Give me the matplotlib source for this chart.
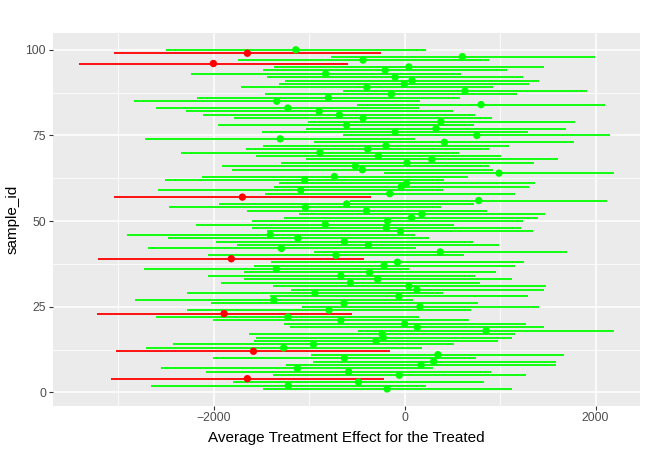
import numpy as np
from matplotlib import pyplot as plt
from matplotlib.ticker import MultipleLocator

plt.rcParams['font.family'] = ['Liberation Sans', 'DejaVu Sans']

# sample_id 1..100 : lower bound, estimate, upper bound, significant (red)
sample_id = np.arange(1, 101)
est = [-184, -1220, -484, -1648, -56, -588, -1124, 172, 304, -632,
       348, -1584, -1268, -956, -300, -224, -236, 852, 132, 0,
       -668, -1224, -1892, -792, 160, -636, -1372, -60, -940, 128,
       44, -568, -284, -668, -368, -1344, -216, -76, -1816, -720,
       372, -1292, -380, -632, -1120, -1408, -44, -192, -832, -180,
       72, 180, -400, -1040, -608, 776, -1700, -156, -1088, -36,
       20, -1048, -736, 988, -444, -516, 24, 284, -276, -888,
       -388, -196, 416, -1304, 756, -100, 328, -608, 380, -436,
       -684, -896, -1224, 800, -1340, -800, -140, 632, -396, -4,
       76, -100, -828, -204, 44, -2004, -436, 604, -1648, -1140]
lower = [-1488, -2660, -1796, -3080, -1376, -2084, -2548, -1240, -964, -2004,
         -980, -3020, -2712, -2432, -1576, -1560, -1628, -484, -1204, -1268,
         -2004, -2600, -3220, -2280, -1080, -2032, -2828, -1412, -2280, -1192,
         -1380, -1928, -1680, -2064, -1688, -2732, -1576, -1400, -3216, -2056,
         -948, -2684, -1752, -1972, -2484, -2908, -1444, -1596, -2184, -1596,
         -1260, -1112, -1648, -2464, -1948, -568, -3048, -1460, -2580, -1372,
         -1320, -2512, -2124, -220, -1812, -1916, -1296, -1036, -1560, -2348,
         -1664, -1484, -948, -2720, -644, -1492, -1036, -1952, -1016, -1788,
         -2108, -2296, -2600, -500, -2840, -2172, -1460, -644, -1716, -1316,
         -1256, -1444, -2236, -1480, -1372, -3408, -1744, -776, -3048, -2500]
upper = [1120, 220, 828, -216, 1268, 904, 300, 1588, 1584, 744,
         1672, -156, 184, 520, 980, 1120, 1156, 2188, 1460, 1268,
         672, 152, -552, 696, 1408, 764, 84, 1296, 400, 1460,
         1480, 784, 1124, 736, 956, 48, 1156, 1252, -424, 620,
         1704, 116, 992, 716, 252, 104, 1344, 1220, 520, 1240,
         1400, 1472, 860, 380, 728, 2116, -352, 1156, 400, 1304,
         1364, 416, 660, 2188, 924, 884, 1352, 1608, 1012, 564,
         884, 1096, 1776, 112, 2152, 1296, 1688, 728, 1784, 912,
         740, 508, 148, 2100, 164, 576, 1180, 1912, 928, 1304,
         1408, 1244, 588, 1072, 1464, -596, 880, 1992, -248, 224]

est = np.array(est)
lower = np.array(lower)
upper = np.array(upper)
colors = np.where(upper < 0, '#FF0000', '#00FF00')

fig = plt.figure(figsize=(6.5, 4.5), dpi=100)
ax = fig.add_axes([0.081, 0.098, 0.904, 0.829])
ax.set_facecolor('#EBEBEB')

ax.hlines(sample_id, lower, upper, colors=colors, linewidth=1.3, zorder=3)
ax.scatter(est, sample_id, c=colors, s=28, zorder=4, linewidths=0)

xr = upper.max() - lower.min()
ax.set_xlim(lower.min() - 0.05 * xr, upper.max() + 0.05 * xr)
ax.set_ylim(1 - 0.05 * 99, 100 + 0.05 * 99)

ax.xaxis.set_major_locator(MultipleLocator(2000))
ax.xaxis.set_minor_locator(MultipleLocator(1000))
ax.yaxis.set_major_locator(MultipleLocator(25))
ax.yaxis.set_minor_locator(MultipleLocator(12.5))
ax.grid(which='major', color='white', linewidth=1.1, zorder=1)
ax.grid(which='minor', color='white', linewidth=0.55, zorder=1)
ax.set_axisbelow(True)
for s in ax.spines.values():
    s.set_visible(False)

ax.tick_params(which='major', length=2.75, width=0.8, color='#333333',
               labelcolor='#4D4D4D', labelsize=8.8, pad=2)
ax.tick_params(which='minor', length=0)
ax.set_xticklabels(['\u22122000' if t == -2000 else str(int(t)) for t in ax.get_xticks()])

ax.set_xlabel('Average Treatment Effect for the Treated', fontsize=11, labelpad=5)
ax.set_ylabel('sample_id', fontsize=11, labelpad=4)

fig.savefig('out.png', dpi=100)
